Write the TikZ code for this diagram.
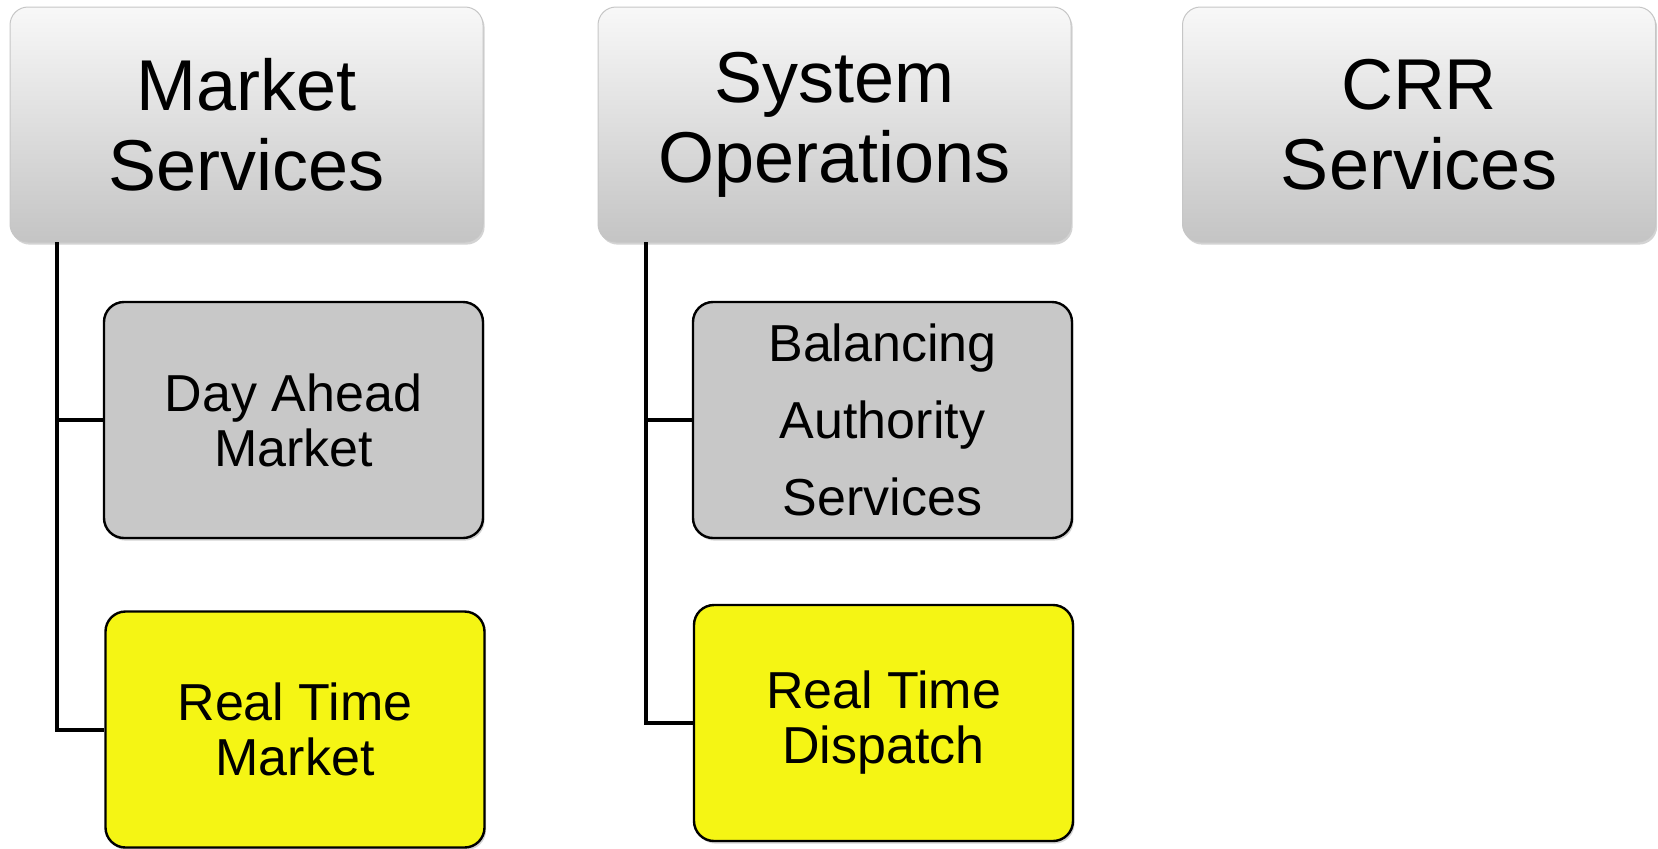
\documentclass[tikz,border=0pt]{standalone}
\usepackage{fontspec}
\setmainfont{Liberation Sans}
\usetikzlibrary{shadows}

\definecolor{headtop}{HTML}{F8F8F8}
\definecolor{headbot}{HTML}{C4C4C4}
\definecolor{subgrey}{HTML}{C8C8C8}
\definecolor{subyellow}{HTML}{F5F514}

\tikzset{
  headbox/.style={rectangle, rounded corners=9pt, draw=gray!45, line width=.5pt,
    top color=headtop, bottom color=headbot, minimum width=236.5pt, minimum height=117.5pt,
    inner sep=0pt, align=center, font=\fontsize{36}{40}\selectfont,
    drop shadow={shadow xshift=.8pt, shadow yshift=-1.3pt, opacity=.35}},
  subbox/.style={rectangle, rounded corners=10pt, draw=black, line width=1.2pt,
    fill=subgrey, minimum width=189.5pt, minimum height=118pt,
    inner sep=0pt, align=center, font=\fontsize{26}{27.5}\selectfont,
    drop shadow={shadow xshift=.8pt, shadow yshift=-1.3pt, opacity=.35}},
  trunk/.style={line width=2pt}
}

\begin{document}
\begin{tikzpicture}[x=.5pt, y=-.5pt]
\useasboundingbox (0,0) rectangle (1658,848);

%%%%%%%%%%%%%-------------top level
\node[headbox] (ms) at (246.5,124.5) {Market\\Services};
\node[headbox] (so) at (834.5,124.5) {System\\Operations};
\node[headbox] (crr) at (1419,124.5) {CRR\\Services};

%%%%%%%%%%%%%-------------second level
\node[subbox] (dam) at (293.5,420) {Day Ahead\\Market};
\node[subbox, fill=subyellow] (rtm) at (295,729.5) {Real Time\\Market};
\node[subbox, font=\fontsize{26}{38.5}\selectfont] (bas) at (882.5,420) {Balancing\\Authority\\Services};
\node[subbox, fill=subyellow] (rtd) at (883.5,723) {Real Time\\Dispatch};

%%%%%%%%%%%%%-------------trunks
\coordinate (msroot) at (57,242);
\coordinate (soroot) at (646,242);
\draw[trunk] (msroot) |- (dam.west);
\draw[trunk] (msroot) |- (rtm.west);
\draw[trunk] (soroot) |- (bas.west);
\draw[trunk] (soroot) |- (rtd.west);

\end{tikzpicture}
\end{document}
